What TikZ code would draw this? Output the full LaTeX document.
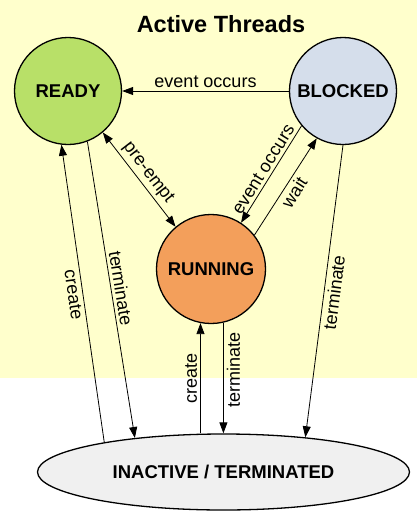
\documentclass[tikz,border=0pt]{standalone}
\usepackage{fontspec}
\setmainfont{Liberation Sans}
\usetikzlibrary{arrows.meta,shapes.geometric}
\definecolor{bgyellow}{RGB}{255,255,204}
\definecolor{readygreen}{RGB}{184,224,104}
\definecolor{blockedblue}{RGB}{213,222,235}
\definecolor{runningorange}{RGB}{243,159,91}
\definecolor{inactivegrey}{RGB}{240,240,240}
\tikzset{
	state/.style={circle, draw, line width=1.3pt, minimum size=107pt, inner sep=0pt, font=\fontsize{18.5}{20}\selectfont\bfseries},
	trans/.style={-{Triangle[length=11pt,width=8pt]}, line width=0.8pt},
	twoway/.style={{Triangle[length=11pt,width=8pt]}-{Triangle[length=11pt,width=8pt]}, line width=0.8pt},
	lbl/.style={font=\fontsize{18}{20}\selectfont, inner sep=3pt}
}
\begin{document}
\begin{tikzpicture}[x=1pt,y=-1pt]
	\useasboundingbox (0,0) rectangle (417,512);
	\fill[bgyellow] (0,0) rectangle (417,378);
	\node[font=\fontsize{23.5}{26}\selectfont\bfseries] (title) at (221,24) {Active Threads};
	\node[state, fill=readygreen] (ready) at (68,91) {READY};
	\node[state, fill=blockedblue] (blocked) at (343,91) {BLOCKED};
	\node[state, fill=runningorange, minimum size=109pt] (running) at (211,269) {RUNNING};
	\node[ellipse, draw, line width=1.3pt, fill=inactivegrey, minimum width=372pt, minimum height=76pt, inner sep=0pt, font=\fontsize{18.5}{20}\selectfont\bfseries] (inactive) at (223.5,472) {INACTIVE / TERMINATED};
	% transitions between the active states
	\draw[trans] (blocked.west) -- node[lbl,above] {event occurs} (ready.east);
	\draw[twoway] (ready.-50) -- node[lbl,sloped,above] {pre-empt} (running.130);
	\draw[trans] (blocked.220) -- node[lbl,sloped,above] {event occurs} (running.57);
	\draw[trans] (running.38) -- node[lbl,sloped,below] {wait} (blocked.241);
	% create and terminate
	\draw[trans] (inactive.166) -- node[lbl,sloped,below] {create} (ready.263);
	\draw[trans] (ready.291) -- node[lbl,sloped,above] {terminate} (inactive.159);
	\draw[trans] (running.259 |- inactive.north) -- node[lbl,rotate=90,anchor=south] {create} (running.259);
	\draw[trans] (running.-77) -- node[lbl,pos=0.43,rotate=90,anchor=north] {terminate} (running.-77 |- inactive.north);
	\draw[trans] (blocked.south) -- node[lbl,sloped,below] {terminate} (inactive.23);
\end{tikzpicture}
\end{document}
